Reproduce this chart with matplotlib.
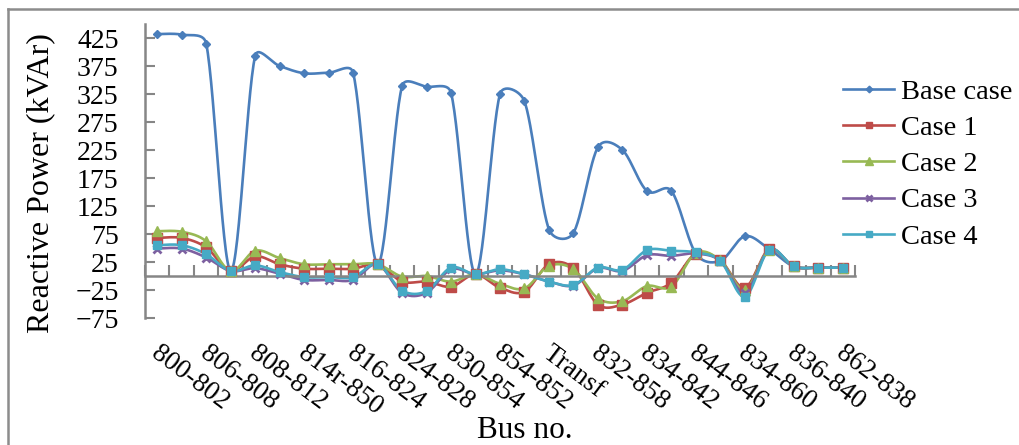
import numpy as np
import matplotlib
matplotlib.use("Agg")
import matplotlib.pyplot as plt
from matplotlib.lines import Line2D

categories = ["800-802", "802-806", "806-808", "808-810", "808-812", "812-814",
              "814r-850", "816-818", "816-824", "820-822", "824-828", "828-830",
              "830-854", "854-856", "854-852", "852-832", "Transf", "888-890",
              "832-858", "858-834", "834-842", "842-844", "844-846", "846-848",
              "834-860", "860-836", "836-840", "836-862", "862-838"]

base_case = [432, 431, 415, 9, 393, 375, 362, 363, 363, 21, 339, 338, 327, 3,
             325, 312, 83, 77, 230, 225, 152, 152, 40, 27, 71, 48, 17, 15, 15]
case1 = [68, 68, 51, 9, 35, 21, 13, 13, 13, 21, -10, -10, -19, 3,
         -21, -28, 21, 14, -51, -51, -30, -12, 40, 28, -21, 48, 17, 15, 15]
case2 = [80, 79, 62, 9, 45, 32, 21, 21, 21, 21, -1, 0, -10, 3,
         -14, -22, 18, 12, -40, -45, -18, -19, 41, 28, -25, 47, 17, 15, 15]
case3 = [49, 49, 33, 9, 14, 4, -7, -7, -7, 21, -30, -30, 12, 3,
         10, 3, -10, -17, 14, 9, 37, 36, 40, 27, -30, 47, 17, 15, 15]
case4 = [55, 55, 39, 9, 19, 7, -2, -2, -2, 21, -26, -27, 15, 3,
         12, 3, -10, -16, 15, 11, 46, 45, 42, 27, -37, 47, 17, 15, 15]

y_ticks = [-75, -25, 25, 75, 125, 175, 225, 275, 325, 375, 425]

series = [
    ("Base case", base_case, "#4a7ebb", "D", 4.5),
    ("Case 1", case1, "#be4b48", "s", 6.5),
    ("Case 2", case2, "#98b954", "^", 7),
    ("Case 3", case3, "#7d60a0", "x", 5.5),
    ("Case 4", case4, "#46aac5", "s", 5.5),
]

W, H = 1019, 445
X0, X1, YT, YB = 145, 855, 24, 318
YMIN, YMAX = -75, 450


def smooth(xv, yv, sx, sy, n=30, cap=0.45):
    # Catmull-Rom style Bezier in screen space, control arms capped
    P = np.column_stack([np.asarray(xv, float) * sx, np.asarray(yv, float) * sy])
    m = len(P)
    D = np.array([(P[min(i + 1, m - 1)] - P[max(i - 1, 0)]) / 6.0 for i in range(m)])
    xs, ys = [], []
    for i in range(m - 1):
        p1, p2 = P[i], P[i + 1]
        L = np.hypot(*(p2 - p1))
        a1, a2 = D[i].copy(), D[i + 1].copy()
        for a in (a1, a2):
            mag = np.hypot(*a)
            if mag > cap * L:
                a *= cap * L / mag
        c1 = p1 + a1
        c2 = p2 - a2
        t = np.linspace(0, 1, n, endpoint=(i == m - 2))[:, None]
        bz = (1 - t) ** 3 * p1 + 3 * (1 - t) ** 2 * t * c1 \
            + 3 * (1 - t) * t ** 2 * c2 + t ** 3 * p2
        xs.append(bz[:, 0] / sx)
        ys.append(bz[:, 1] / sy)
    return np.concatenate(xs), np.concatenate(ys)


plt.rcParams['font.family'] = ['Liberation Serif', 'DejaVu Serif']

fig = plt.figure(figsize=(W / 100, H / 100), dpi=100)
ax = fig.add_axes([X0 / W, 1 - YB / H, (X1 - X0) / W, (YB - YT) / H])
ax.spines['bottom'].set_position(('data', 0))

ncat = len(categories)
x = np.arange(ncat)
px_per_cat = (X1 - X0) / ncat
px_per_unit = (YB - YT) / (YMAX - YMIN)

handles = []
for name, vals, color, marker, ms in series:
    sxv, syv = smooth(x, vals, px_per_cat, px_per_unit)
    ax.plot(sxv, syv, color=color, lw=1.9, zorder=2)
    mew = 2 if marker == "x" else 1
    ax.plot(x, vals, linestyle="none", marker=marker, color=color, ms=ms,
            mew=mew, zorder=3)
    handles.append(Line2D([], [], color=color, lw=1.9, marker=marker,
                          ms=ms * 0.75, mew=mew, label=name))

ax.set_xlim(-0.5, ncat - 0.5)
ax.set_ylim(YMIN, YMAX)
ax.set_yticks(y_ticks)
ax.tick_params(axis='y', direction='in', length=7, width=1.5, color='#868686',
               labelsize=20, pad=19)

ax.set_xticks(x[::2])
ax.set_xticks(np.arange(ncat + 1) - 0.5, minor=True)
ax.tick_params(axis='x', which='major', length=0, pad=47)
ax.tick_params(axis='x', which='minor', direction='in', length=8, width=1.5,
               color='#868686')
ax.set_xticklabels(categories[::2], rotation=-37, ha='left', va='top',
                   rotation_mode='anchor', fontsize=19.5)
for lab in ax.get_xticklabels():
    lab.set_transform(lab.get_transform() +
                      matplotlib.transforms.ScaledTranslation(4 / 100, 0, fig.dpi_scale_trans))

for s in ['top', 'right']:
    ax.spines[s].set_visible(False)
for s in ['left', 'bottom']:
    ax.spines[s].set_color('#868686')
    ax.spines[s].set_linewidth(1.8)
ax.patch.set_visible(False)

fig.text(41 / W, 1 - 183 / H, "Reactive Power (kVAr)", fontsize=23,
         rotation=90, ha='center', va='center')
fig.text(525 / W, 1 - 431 / H, "Bus no.", fontsize=22.5, ha='center', va='center')

leg = fig.legend(handles=handles, loc='upper left',
                 bbox_to_anchor=(843 / W, 1 - 79 / H), frameon=False,
                 fontsize=20.5, handlelength=1.8, handletextpad=0.22,
                 labelspacing=0.36, borderaxespad=0, borderpad=0)

fig.add_artist(Line2D([7.5 / W, 1.0], [1 - 8.5 / H, 1 - 8.5 / H],
                      transform=fig.transFigure, color='#8c8c8c', lw=1.8))
fig.add_artist(Line2D([7.5 / W, 7.5 / W], [0, 1 - 8.5 / H],
                      transform=fig.transFigure, color='#8c8c8c', lw=1.8))

fig.savefig("out.png", dpi=100)
